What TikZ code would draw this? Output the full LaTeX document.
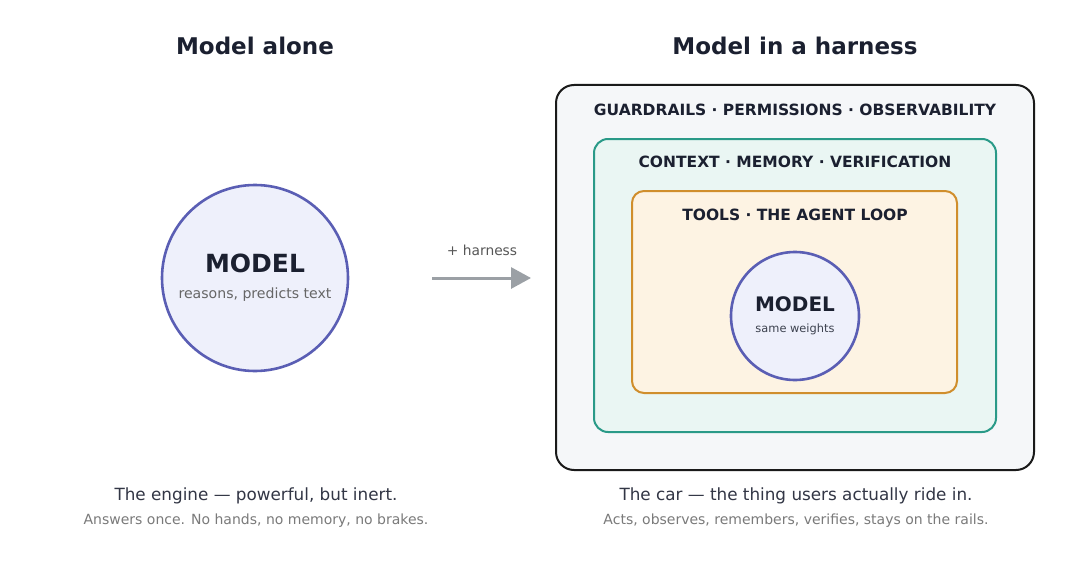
\documentclass[tikz,border=0pt]{standalone}
\usepackage{fontspec}
\setmainfont{DejaVu Sans}
\usetikzlibrary{arrows.meta}
\definecolor{titlec}{HTML}{1B2030}
\definecolor{circfill}{HTML}{EEF0FB}
\definecolor{circline}{HTML}{5A5EB4}
\definecolor{outerfill}{HTML}{F5F7F9}
\definecolor{outerline}{HTML}{1A1A1A}
\definecolor{tealfill}{HTML}{EAF6F3}
\definecolor{tealline}{HTML}{2A9A88}
\definecolor{orfill}{HTML}{FDF3E3}
\definecolor{orline}{HTML}{D08E2C}
\definecolor{arrowc}{HTML}{9BA0A5}
\definecolor{subc}{HTML}{666666}
\definecolor{capc}{HTML}{7A7A7A}
\tikzset{
  title/.style={font=\fontsize{23}{23}\selectfont\bfseries,text=titlec,inner sep=0},
  modelcirc/.style={circle,draw=circline,fill=circfill,line width=2.6pt,inner sep=0},
  layerbox/.style={rectangle,rounded corners=#1,inner sep=0},
  layerlabel/.style={font=\fontsize{15.5}{15.5}\selectfont\bfseries,text=titlec,inner sep=0},
  bigmodel/.style={text=titlec,inner sep=0},
  subtxt/.style={text=subc,inner sep=0},
  captxt/.style={font=\fontsize{16.8}{16.8}\selectfont,text=titlec!90,inner sep=0},
  capsub/.style={font=\fontsize{14}{14}\selectfont,text=capc,inner sep=0},
}
\begin{document}
\begin{tikzpicture}[x=1pt,y=-1pt]
\useasboundingbox[fill=white] (0,0) rectangle (1080,586);
% titles
\node[title] (t1) at (255,46) {Model alone};
\node[title] (t2) at (795,46) {Model in a harness};
% left model
\node[modelcirc,minimum size=186pt] (m1) at (255,278) {};
\node[bigmodel,font=\fontsize{25}{25}\selectfont\bfseries] (m1t) at (255,263) {MODEL};
\node[subtxt,font=\fontsize{14.1}{14.1}\selectfont] (m1s) at (255,295) {reasons, predicts text};
% arrow
\coordinate (as) at (432,278);
\coordinate (ae) at (531,278);
\draw[arrowc,line width=3pt,-{Triangle[length=20pt,width=21pt]}] (as) -- (ae);
\node[font=\fontsize{13.8}{13.8}\selectfont,text=subc!85!black,inner sep=0] (al) at (482,250) {+ harness};
% harness layers
\node[layerbox=18pt,draw=outerline,fill=outerfill,line width=2pt,minimum width=478pt,minimum height=385pt] (outer) at (795,277.5) {};
\node[layerlabel] (l1) at (795,110) {GUARDRAILS · PERMISSIONS · OBSERVABILITY};
\node[layerbox=14pt,draw=tealline,fill=tealfill,line width=2pt,minimum width=402pt,minimum height=293pt] (teal) at (795,285.5) {};
\node[layerlabel] (l2) at (795,162) {CONTEXT · MEMORY · VERIFICATION};
\node[layerbox=12pt,draw=orline,fill=orfill,line width=2pt,minimum width=325pt,minimum height=202pt] (orange) at (794.5,292) {};
\node[layerlabel] (l3) at (795,215) {TOOLS · THE AGENT LOOP};
\node[modelcirc,minimum size=128pt] (m2) at (795,316) {};
\node[bigmodel,font=\fontsize{20}{20}\selectfont\bfseries] (m2t) at (795,304) {MODEL};
\node[text=titlec!85,font=\fontsize{11.4}{11.4}\selectfont,inner sep=0] (m2s) at (795,329) {same weights};
% captions
\node[captxt] (c1) at (256,496) {The engine — powerful, but inert.};
\node[capsub] (c1s) at (256,521) {Answers once. No hands, no memory, no brakes.};
\node[captxt] (c2) at (796,496) {The car — the thing users actually ride in.};
\node[capsub] (c2s) at (796,521) {Acts, observes, remembers, verifies, stays on the rails.};
\end{tikzpicture}
\end{document}
